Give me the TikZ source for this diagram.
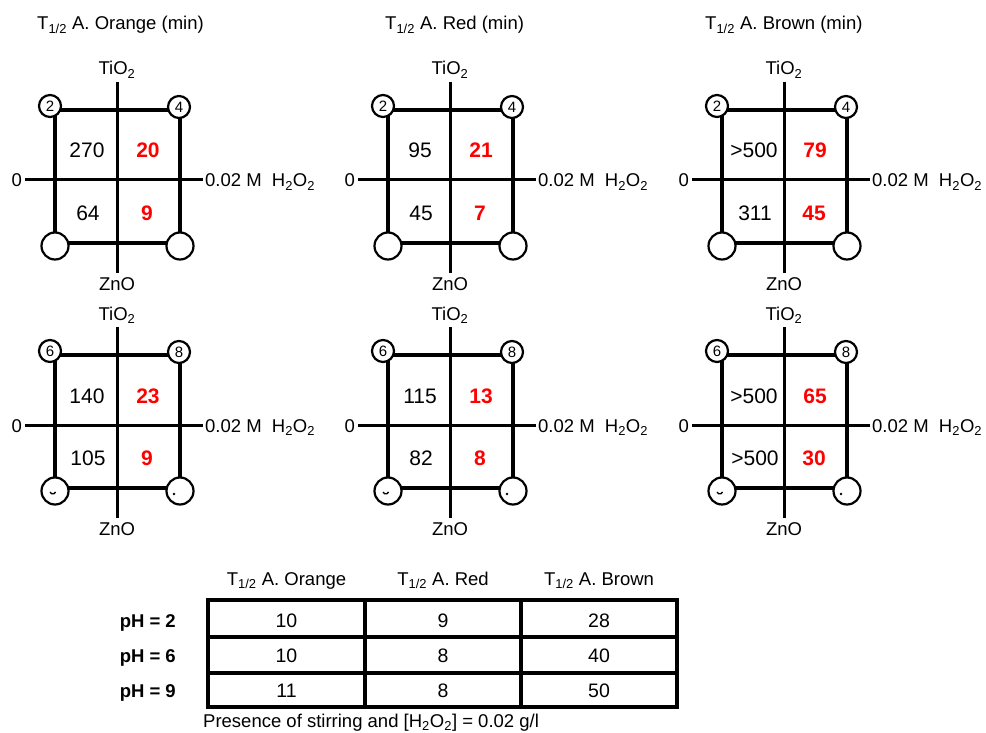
\documentclass[tikz,border=0pt]{standalone}
\usepackage{fontspec}
\setmainfont{Liberation Sans}
\tikzset{
  sq/.style={line width=3.5pt},
  ax/.style={line width=3pt},
  tb/.style={line width=4pt},
  lbl/.style={font=\fontsize{18.5}{22}\selectfont, inner sep=0pt},
  val/.style={font=\fontsize{21}{25}\selectfont, inner sep=0pt, anchor=base},
  redval/.style={val, text=red, font=\fontsize{21}{25}\selectfont\bfseries},
  tval/.style={font=\fontsize{19.5}{23}\selectfont, inner sep=0pt, anchor=base},
  phl/.style={font=\fontsize{18.5}{22}\selectfont\bfseries, inner sep=0pt, anchor=base east},
  corner/.style={circle, draw, fill=white, line width=2.2pt, minimum size=22pt, inner sep=0pt, font=\fontsize{15}{17}\selectfont},
  bcorner/.style={circle, draw, fill=white, line width=2.2pt, minimum size=27pt, inner sep=0pt},
}
% #1 prefix, #2 cx, #3 cy, #4 tl, #5 tr, #6 a, #7 b, #8 c, #9 d
\newcommand{\dpanel}[9]{%
  \coordinate (#1-tl) at (#2-62,#3-70);
  \coordinate (#1-tr) at (#2+63,#3-70);
  \coordinate (#1-br) at (#2+63,#3+63);
  \coordinate (#1-bl) at (#2-62,#3+63);
  \coordinate (#1-vt) at (#2,#3-98);
  \coordinate (#1-vb) at (#2,#3+93);
  \coordinate (#1-hl) at (#2-92,#3);
  \coordinate (#1-hr) at (#2+86,#3);
  \draw[sq] (#1-tl) -- (#1-tr) -- (#1-br) -- (#1-bl) -- cycle;
  \draw[ax] (#1-vt) -- (#1-vb);
  \draw[ax] (#1-hl) -- (#1-hr);
  \node[lbl, anchor=base] (#1-ti) at (#2,#3-105) {TiO\textsubscript{2}};
  \node[lbl, anchor=base] (#1-zn) at (#2,#3+110) {ZnO};
  \node[lbl, anchor=base east] (#1-zero) at (#2-95,#3+7) {0};
  \node[lbl, anchor=base west] (#1-hp) at (#2+88,#3+7) {0.02 M\hspace{0.55em}H\textsubscript{2}O\textsubscript{2}};
  \node[corner] (#1-ctl) at (#2-67,#3-74) {#4};
  \node[corner] (#1-ctr) at (#2+62,#3-73) {#5};
  \node[bcorner] (#1-cbl) at (#2-62,#3+66) {};
  \node[bcorner] (#1-cbr) at (#2+63,#3+66) {};
  \node[val] (#1-a) at (#2-30,#3-22) {#6};
  \node[redval] (#1-b) at (#2+31,#3-22) {#7};
  \node[val] (#1-c) at (#2-29,#3+40) {#8};
  \node[redval] (#1-d) at (#2+30,#3+40) {#9};
}
\newcommand{\bmarks}[1]{%
  \draw[line width=1.3pt] ([shift={(-5,1)}]#1-cbl.center) arc[start angle=160, end angle=20, radius=3];
  \fill ([shift={(-6,3)}]#1-cbr.center) circle[radius=1.3];
}
\begin{document}
\begin{tikzpicture}[x=1pt, y=-1pt]
  \useasboundingbox (0,0) rectangle (986,733);
  % titles
  \node[lbl, anchor=base west] (t1) at (37,30) {T\textsubscript{1/2} A. Orange (min)};
  \node[lbl, anchor=base west] (t2) at (385,30) {T\textsubscript{1/2} A. Red (min)};
  \node[lbl, anchor=base west] (t3) at (705,30) {T\textsubscript{1/2} A. Brown (min)};
  % top row
  \dpanel{p1}{117}{180}{2}{4}{270}{20}{64}{9}
  \dpanel{p2}{450}{180}{2}{4}{95}{21}{45}{7}
  \dpanel{p3}{784}{180}{2}{4}{>500}{79}{311}{45}
  % bottom row
  \dpanel{p4}{117}{425}{6}{8}{140}{23}{105}{9}
  \dpanel{p5}{450}{425}{6}{8}{115}{13}{82}{8}
  \dpanel{p6}{784}{425}{6}{8}{>500}{65}{>500}{30}
  \bmarks{p4}\bmarks{p5}\bmarks{p6}
  % table
  \coordinate (g00) at (208,600);
  \coordinate (g33) at (677,707);
  \coordinate (c1t) at (365,600); \coordinate (c1b) at (365,707);
  \coordinate (c2t) at (521,600); \coordinate (c2b) at (521,707);
  \coordinate (r1l) at (208,637); \coordinate (r1r) at (677,637);
  \coordinate (r2l) at (208,673); \coordinate (r2r) at (677,673);
  \draw[tb] (g00) rectangle (g33);
  \draw[line width=3.5pt] (c1t) -- (c1b) (c2t) -- (c2b) (r1l) -- (r1r) (r2l) -- (r2r);
  \node[lbl, anchor=base] (h1) at (286.5,585) {T\textsubscript{1/2} A. Orange};
  \node[lbl, anchor=base] (h2) at (443,585) {T\textsubscript{1/2} A. Red};
  \node[lbl, anchor=base] (h3) at (599,585) {T\textsubscript{1/2} A. Brown};
  \node[phl] (ph2) at (176,627) {pH = 2};
  \node[phl] (ph6) at (176,662) {pH = 6};
  \node[phl] (ph9) at (176,697) {pH = 9};
  \node[tval] (v11) at (286.5,627) {10};
  \node[tval] (v12) at (443,627) {9};
  \node[tval] (v13) at (599,627) {28};
  \node[tval] (v21) at (286.5,662) {10};
  \node[tval] (v22) at (443,662) {8};
  \node[tval] (v23) at (599,662) {40};
  \node[tval] (v31) at (286.5,697) {11};
  \node[tval] (v32) at (443,697) {8};
  \node[tval] (v33) at (599,697) {50};
  \node[lbl, anchor=base west] (cap) at (203,727) {Presence of stirring and [H\textsubscript{2}O\textsubscript{2}] = 0.02 g/l};
\end{tikzpicture}
\end{document}
